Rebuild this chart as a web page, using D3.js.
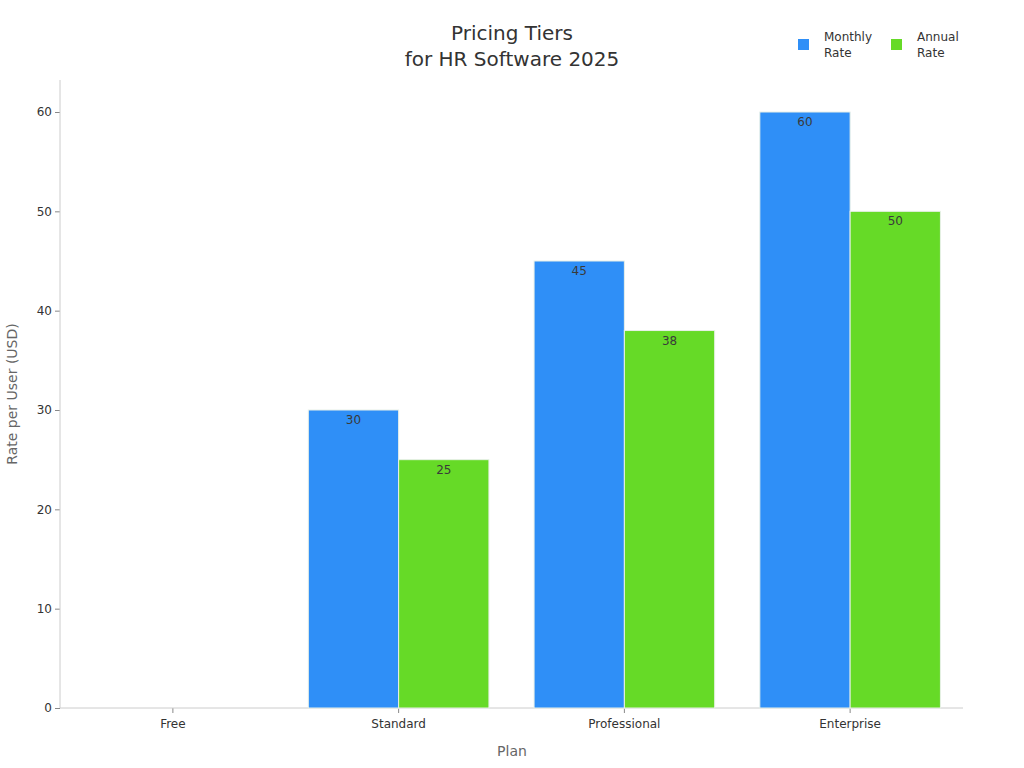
<!DOCTYPE html>
<html><head><meta charset="utf-8">
<script src="https://cdn.jsdelivr.net/npm/d3@7"></script>
<style>body{margin:0;background:#fff;font-family:"DejaVu Sans",sans-serif;}</style>
</head><body><svg id="c" width="1024" height="768"></svg>
<script>
const categories = ["Free","Standard","Professional","Enterprise"];
const seriesNames = ["Monthly Rate","Annual Rate"];
const monthly = [0,30,45,60];
const annual = [0,25,38,50];
const yTicks = [0,10,20,30,40,50,60];
const colors = ["#2f8ff7","#66da27"];

const svg = d3.select("#c");
const m = {l:60, r:963, t:80, b:708};
const x = d3.scaleBand().domain(categories).range([m.l,m.r]).paddingInner(0.2).paddingOuter(0.1);
const y = d3.scaleLinear().domain([0,60]).range([m.b,112]);
const x1 = d3.scaleBand().domain(seriesNames).range([0,x.bandwidth()]);
const data = [monthly, annual];

// axes
const ya = svg.append("g").attr("transform",`translate(${m.l},0)`)
  .call(d3.axisLeft(y).tickValues(yTicks).tickSize(5).tickPadding(3));
ya.select(".domain").remove();
svg.append("line").attr("x1",m.l).attr("x2",m.l).attr("y1",m.t).attr("y2",m.b).attr("stroke","#ccc");
ya.selectAll(".tick line").attr("stroke","#888");
ya.selectAll(".tick text").attr("fill","#333").style("font-size","12px").style("font-family","DejaVu Sans");

const xa = svg.append("g").attr("transform",`translate(0,${m.b})`)
  .call(d3.axisBottom(x).tickSize(5).tickPadding(6));
xa.select(".domain").remove();
svg.append("line").attr("x1",m.l).attr("x2",m.r).attr("y1",m.b).attr("y2",m.b).attr("stroke","#ccc");
xa.selectAll(".tick line").attr("stroke","#888");
xa.selectAll(".tick text").attr("fill","#333").style("font-size","12px").style("font-family","DejaVu Sans");

// bars
categories.forEach((c,i)=>{
  seriesNames.forEach((s,j)=>{
    const v = data[j][i];
    if (v<=0) return;
    const bx = x(c)+x1(s);
    svg.append("rect").attr("x",bx).attr("y",y(v)).attr("width",x1.bandwidth()).attr("height",y(0)-y(v))
      .attr("fill",colors[j]).attr("stroke","#e8f0e8").attr("stroke-width",1);
    svg.append("text").attr("x",bx+x1.bandwidth()/2).attr("y",y(v)+14).attr("text-anchor","middle")
      .attr("fill","#3a3a3a").style("font-size","12px").text(v);
  });
});

// titles
svg.append("text").attr("x",512).attr("y",40).attr("text-anchor","middle").attr("fill","#333").style("font-size","20px").text("Pricing Tiers");
svg.append("text").attr("x",512).attr("y",66).attr("text-anchor","middle").attr("fill","#333").style("font-size","20px").text("for HR Software 2025");
svg.append("text").attr("x",512).attr("y",756).attr("text-anchor","middle").attr("fill","#666").style("font-size","14px").text("Plan");
svg.append("text").attr("transform","translate(17,394) rotate(-90)").attr("text-anchor","middle").attr("fill","#666").style("font-size","14px").text("Rate per User (USD)");

// legend
const lx = [798, 891];
seriesNames.forEach((s,j)=>{
  svg.append("rect").attr("x",lx[j]).attr("y",39).attr("width",11).attr("height",11).attr("fill",colors[j]);
  const parts = s.split(" ");
  parts.forEach((p,k)=>{
    svg.append("text").attr("x",lx[j]+26).attr("y",41+k*16).attr("fill","#333").style("font-size","12px").text(p);
  });
});
</script></body></html>
